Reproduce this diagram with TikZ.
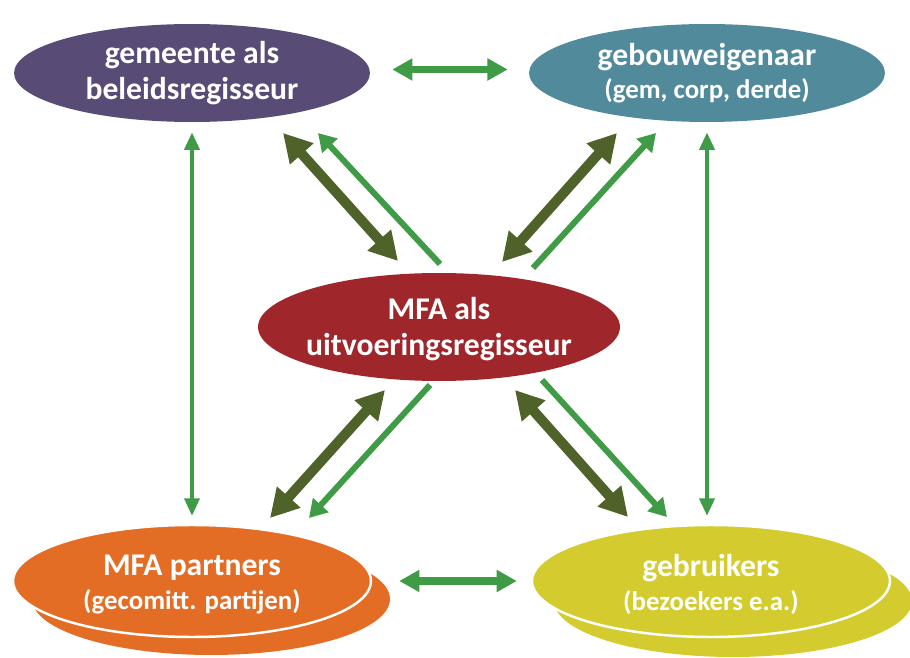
\documentclass[tikz,border=0pt]{standalone}
\usepackage{fontspec}
\setmainfont{Carlito}
\usetikzlibrary{arrows.meta,shapes.geometric}
\definecolor{gemcol}{HTML}{584B76}
\definecolor{gebcol}{HTML}{518A9B}
\definecolor{mfacol}{HTML}{9F272B}
\definecolor{partcol}{HTML}{E46D26}
\definecolor{gebrcol}{HTML}{D4CC2F}
\definecolor{olivearr}{HTML}{4F6229}
\definecolor{greenarr}{HTML}{3F9B46}
\newcommand{\subline}{\fontsize{15.3}{18}\selectfont}

\begin{document}
\begin{tikzpicture}[
		x=0.02cm, y=-0.02cm,
		role/.style={ellipse,inner sep=0pt,minimum width=7.12cm,minimum height=1.96cm},
		twin/.style={role,minimum width=7.16cm,minimum height=2.24cm,draw=white,line width=1.4pt},
		label/.style={text=white,align=center,font=\bfseries\fontsize{18}{20.5}\selectfont},
		duo/.style={draw=olivearr,line width=5.7pt,
		{Triangle[length=16pt,width=17pt]}-{Triangle[length=16pt,width=17pt]}},
		one/.style={draw=greenarr,line width=3.4pt,-{Triangle[length=10pt,width=11.5pt]}},
		flat/.style={draw=greenarr,line width=4pt,
		{Triangle[length=11.5pt,width=12pt]}-{Triangle[length=11.5pt,width=12pt]}},
		vert/.style={draw=greenarr,line width=2.3pt,
		{Triangle[length=10pt,width=8.5pt]}-{Triangle[length=10pt,width=8.5pt]}}
		]
		\useasboundingbox (0,0) rectangle (910,658);
		% the five roles
		\node[role,fill=gemcol] (gem) at (192,73) {};
		\node[label] (gem-t) at (gem) {gemeente als\\beleidsregisseur};
		\node[role,fill=gebcol] (geb) at (707,73) {};
		\node[label] (geb-t) at (geb) {gebouweigenaar\\[-2pt]{\subline (gem, corp, derde)}};
		\node[role,fill=mfacol,minimum width=7.24cm,minimum height=2.16cm] (mfa) at (439,327) {};
		\node[label] (mfa-t) at ([yshift=-1pt]mfa) {MFA als\\uitvoeringsregisseur};
		\node[twin,draw=none,fill=partcol] (part-b) at (211,599) {};
		\node[twin,fill=partcol] (part) at (192,581) {};
		\node[label] (part-t) at ([yshift=-2pt]part) {MFA partners\\[-1pt]{\subline (gecomitt. partijen)}};
		\node[twin,draw=none,fill=gebrcol] (gebr-b) at (733,601) {};
		\node[twin,fill=gebrcol] (gebr) at (711,581) {};
		\node[label] (gebr-t) at ([yshift=-2pt]gebr) {gebruikers\\[-1pt]{\subline (bezoekers e.a.)}};
		% arrow ends round the centre
		\coordinate (tl-a) at (283,133); \coordinate (tl-b) at (398,261);
		\coordinate (tl-c) at (318,133); \coordinate (tl-d) at (440,264);
		\coordinate (tr-a) at (617,133); \coordinate (tr-b) at (502,262);
		\coordinate (tr-c) at (656,133); \coordinate (tr-d) at (533,268);
		\coordinate (bl-a) at (385,390); \coordinate (bl-b) at (270,518);
		\coordinate (bl-c) at (309,518); \coordinate (bl-d) at (430,385);
		\coordinate (br-a) at (515,390); \coordinate (br-b) at (628,517);
		\coordinate (br-c) at (667,517); \coordinate (br-d) at (542,380);
		\draw[duo] (tl-a) -- (tl-b);
		\draw[one] (tl-d) -- (tl-c);
		\draw[duo] (tr-a) -- (tr-b);
		\draw[one] (tr-d) -- (tr-c);
		\draw[duo] (bl-a) -- (bl-b);
		\draw[one] (bl-d) -- (bl-c);
		\draw[duo] (br-a) -- (br-b);
		\draw[one] (br-d) -- (br-c);
		% straight links
		\draw[flat,shorten <=12.5pt,shorten >=12pt] ([yshift=2pt]gem.east) -- ([yshift=2pt]geb.west);
		\draw[flat,shorten <=15.4pt,shorten >=8pt] (part.east) -- (gebr.west);
		\draw[vert,shorten <=5.7pt,shorten >=4.5pt] (gem.south) -- (gem.south |- part.north);
		\draw[vert,shorten <=5.7pt,shorten >=4.5pt] (geb.south) -- (geb.south |- gebr.north);
	\end{tikzpicture}
\end{document}
